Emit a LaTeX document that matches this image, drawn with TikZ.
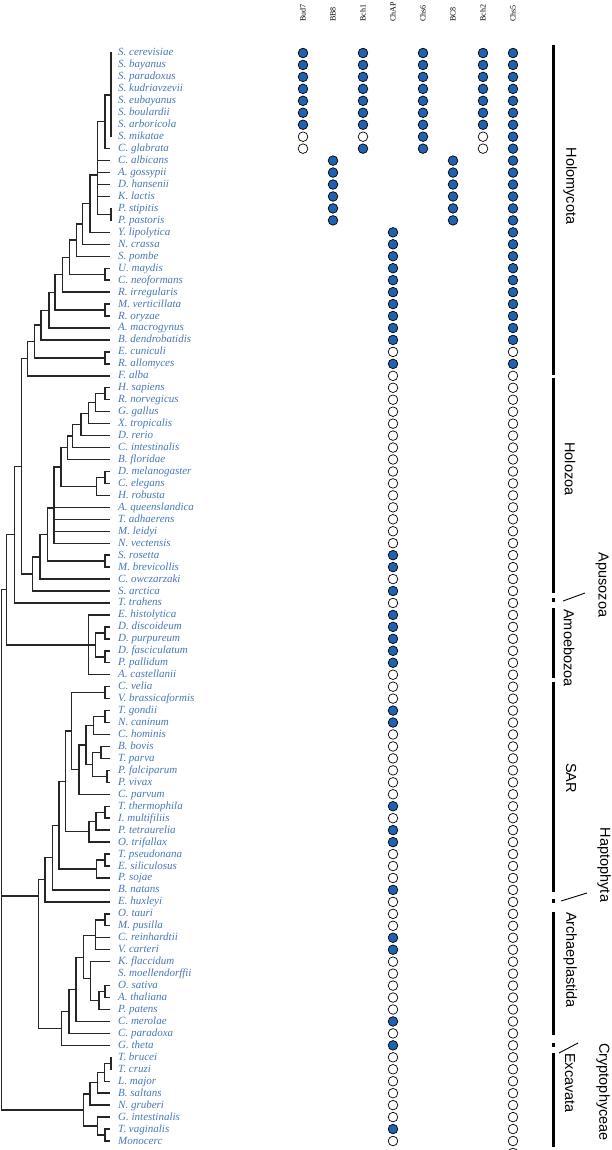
\documentclass[tikz,border=0pt]{standalone}
\usepackage{fontspec}
\setmainfont{Liberation Serif}
\setsansfont{Liberation Sans}
\definecolor{taxblue}{HTML}{4677B6}
\definecolor{dotblue}{HTML}{1E62B0}
\tikzset{
  taxon/.style={anchor=west,inner xsep=8pt,inner ysep=0pt,text height=7.5pt,text depth=1.5pt,text=taxblue,font=\fontsize{11}{12}\selectfont\itshape},
  branch/.style={line width=1.4pt,draw=black!85},
  gene/.style={rotate=90,anchor=west,inner sep=0pt,font=\fontsize{8}{9}\selectfont},
  cell/.style={circle,draw,line width=0.7pt,minimum size=9.6pt,inner sep=0pt},
  st1/.style={fill=dotblue},
  st0/.style={fill=white},
  cladebar/.style={line width=3pt},
  cladename/.style={rotate=-90,inner sep=0pt,font=\sffamily\fontsize{14.5}{15}\selectfont},
}
\begin{document}
\begin{tikzpicture}[x=1pt,y=-1pt]
\useasboundingbox (0,0) rectangle (612,1150);

\foreach \g [count=\c] in {Bud7,BB8,Bch1,ChAP,Chs6,BC8,Bch2,Chs5}
  \node[gene] (g\c) at ({273+30*\c},22) {\g};

\foreach \t [count=\i] in {S. cerevisiae,S. bayanus,S. paradoxus,S. kudriavzevii,S. eubayanus,S. boulardii,S. arboricola,S. mikatae,C. glabrata,C. albicans,A. gossypii,D. hansenii,K. lactis,P. stipitis,P. pastoris,Y. lipolytica,N. crassa,S. pombe,U. maydis,C. neoformans,R. irregularis,M. verticillata,R. oryzae,A. macrogynus,B. dendrobatidis,E. cuniculi,R. allomyces,F. alba,H. sapiens,R. norvegicus,G. gallus,X. tropicalis,D. rerio,C. intestinalis,B. floridae,D. melanogaster,C. elegans,H. robusta,A. queenslandica,T. adhaerens,M. leidyi,N. vectensis,S. rosetta,M. brevicollis,C. owczarzaki,S. arctica,T. trahens,E. histolytica,D. discoideum,D. purpureum,D. fasciculatum,P. pallidum,A. castellanii,C. velia,V. brassicaformis,T. gondii,N. caninum,C. hominis,B. bovis,T. parva,P. falciparum,P. vivax,C. parvum,T. thermophila,I. multifiliis,P. tetraurelia,O. trifallax,T. pseudonana,E. siliculosus,P. sojae,B. natans,E. huxleyi,O. tauri,M. pusilla,C. reinhardtii,V. carteri,K. flaccidum,S. moellendorffii,O. sativa,A. thaliana,P. patens,C. merolae,C. paradoxa,G. theta,T. brucei,T. cruzi,L. major,B. saltans,N. gruberi,G. intestinalis,T. vaginalis,Monocerc}
  \node[taxon] (t\i) at (110,{53+11.956*(\i-1)}) {\t};

\foreach \c/\r/\vals in {
  1/1/{1,1,1,1,1,1,1,0,0},
  2/10/{1,1,1,1,1,1},
  3/1/{1,1,1,1,1,1,1,0,1},
  4/16/{1,1,1,1,1,1,1,1,1,1,0,1,0,0,0,0,0,0,0,0,0,0,0,0,0,0,0,1,1,0,1,0,1,1,1,1,1,0,0,0,1,1,0,0,0,0,0,0,1,0,1,1,0,0,0,1,0,0,0,1,1,0,0,0,0,0,1,0,1,0,0,0,0,0,0,1,0},
  5/1/{1,1,1,1,1,1,1,1,1},
  6/10/{1,1,1,1,1,1},
  7/1/{1,1,1,1,1,1,1,0,0},
  8/1/{1,1,1,1,1,1,1,1,1,1,1,1,1,1,1,1,1,1,1,1,1,1,1,1,1,0,1,0,0,0,0,0,0,0,0,0,0,0,0,0,0,0,0,0,0,0,0,0,0,0,0,0,0,0,0,0,0,0,0,0,0,0,0,0,0,0,0,0,0,0,0,0,0,0,0,0,0,0,0,0,0,0,0,0,0,0,0,0,0,0,0,0,0}}
  \foreach \v [count=\k from \r] in \vals
    \node[cell,st\v] (d\c-\k) at ({273+30*\c},{53+11.956*(\k-1)}) {};

\foreach \n/\x/\y in {sac/111/94.85,ncgl/105/121.75,nsac/97.7/175.05,npp/111/214.4,nylip/90/203.7,nncr/82.7/224.0,nasc/76.7/240.1,num/105/274.2,ndik/69.3/257.2,nrir/62.3/274.7,nmr/105/310.1,nh/55/292.4,ni/49/310.2,nj/41/325.1,ner/105/357.9,nk/34.3/341.5,nhm/27.7/358.7,
  nhr/105/393.7,ngg/95.7/402.7,nxt/88.3/413.2,ndr/81/424.4,nci/72.7/436.0,nbf/67.7/447.7,ndc/105/477.4,nhro/96.7/486.4,nbil/61/467.1,nmet/54/508,nsm/105/561.1,ncho/47.7/534.6,ncow/40/556.8,nsarc/32.3/573.9,nopi/21.7/466.3,nob/14.3/534.6,
  ndd/105/632.9,ndp/105/656.8,ndic/95.7/644.8,namb/88.3/644.8,nam/6.7/589.7,
  ncv/105/692.6,ntn/105/716.6,nch/93.3/725.5,nbt/101/752.4,npf/107/776.3,npir/92.3/764.4,nhae/86/745.0,ncp/79/769.6,nmyz/71.7/731.1,nti/105/812.2,npt/96/821.2,ncil/89/831.6,nalv/65.7/781.4,nte/105/860.0,nstr/96.7/869.0,nsa/59/825.2,nsar/52.3/857.6,nhap/45/879.7,
  nom/105/919.8,nchl/95.7/935.7,noa/105/991.5,nemb/99/1000.5,nlp/90.7/978.6,nvir/83.3/957.2,ncm/76/989.3,ncpa/69/1011.3,narc/61.7/1028.3,ndia/38.3/896,
  ntb/111/1063.3,nlm/104.3/1072.2,nbs/97.3/1082.7,nng/90/1093.9,ntv/105/1135.0,nmm/97.7/1126.0,nexc/83.3/1110.0,root/1.2/850}
  \coordinate (\n) at (\x,\y);

\foreach \p/\c in {sac/t1,sac/t2,sac/t3,sac/t4,sac/t5,sac/t6,sac/t7,sac/t8,ncgl/sac,ncgl/t9,
  nsac/ncgl,nsac/t10,nsac/t11,nsac/t12,nsac/t13,nsac/npp,npp/t14,npp/t15,nylip/nsac,nylip/t16,
  nncr/nylip,nncr/t17,nasc/nncr,nasc/t18,num/t19,num/t20,ndik/nasc,ndik/num,nrir/ndik,nrir/t21,
  nmr/t22,nmr/t23,nh/nrir,nh/nmr,ni/nh,ni/t24,nj/ni,nj/t25,ner/t26,ner/t27,nk/nj,nk/ner,nhm/nk,nhm/t28,
  nhr/t29,nhr/t30,ngg/nhr,ngg/t31,nxt/ngg,nxt/t32,ndr/nxt,ndr/t33,nci/ndr,nci/t34,nbf/nci,nbf/t35,
  ndc/t36,ndc/t37,nhro/ndc,nhro/t38,nbil/nbf,nbil/nhro,nmet/nbil,nmet/t39,nmet/t40,nmet/t41,nmet/t42,
  nsm/t43,nsm/t44,ncho/nmet,ncho/nsm,ncow/ncho,ncow/t45,nsarc/ncow,nsarc/t46,nopi/nhm,nopi/nsarc,nob/nopi,nob/t47,
  ndd/t49,ndd/t50,ndp/t51,ndp/t52,ndic/ndd,ndic/ndp,namb/t48,namb/ndic,namb/t53,nam/nob,nam/namb,
  ncv/t54,ncv/t55,ntn/t56,ntn/t57,nch/ntn,nch/t58,nbt/t59,nbt/t60,npf/t61,npf/t62,npir/nbt,npir/npf,
  nhae/nch,nhae/npir,ncp/nhae,ncp/t63,nmyz/ncv,nmyz/ncp,nti/t64,nti/t65,npt/nti,npt/t66,ncil/npt,ncil/t67,
  nalv/nmyz,nalv/ncil,nte/t68,nte/t69,nstr/nte,nstr/t70,nsa/nalv,nsa/nstr,nsar/nsa,nsar/t71,nhap/nsar,nhap/t72,
  nom/t73,nom/t74,nchl/nom,nchl/t75,nchl/t76,noa/t79,noa/t80,nemb/noa,nemb/t81,nlp/t77,nlp/nemb,
  nvir/nchl,nvir/nlp,ncm/nvir,ncm/t82,ncpa/ncm,ncpa/t83,narc/ncpa,narc/t84,ndia/nhap,ndia/narc,
  ntb/t85,ntb/t86,nlm/ntb,nlm/t87,nbs/nlm,nbs/t88,nng/nbs,nng/t89,ntv/t91,ntv/t92,nmm/t90,nmm/ntv,
  nexc/nng,nexc/nmm,root/nam,root/ndia,root/nexc}
  \draw[branch] (\p) |- (\c);

\draw[cladebar] (553,45) -- (553,375);
\draw[cladebar] (553,378) -- (553,593);
\draw[cladebar] (553,598) -- (553,602);
\draw[cladebar] (553,608) -- (553,678);
\draw[cladebar] (553,682) -- (553,892);
\draw[cladebar] (553,899) -- (553,903);
\draw[cladebar] (553,912) -- (553,1035);
\draw[cladebar] (553,1043) -- (553,1047);
\draw[cladebar] (553,1053) -- (553,1147);
\draw[line width=0.9pt] (563,601) -- (585,593);
\draw[line width=0.9pt] (561,901) -- (587,893);
\draw[line width=0.9pt] (559,1053) -- (578,1043);

\node[cladename] (holomycota) at (570,186) {Holomycota};
\node[cladename] (holozoa) at (570,469) {Holozoa};
\node[cladename] (apusozoa) at (602,585) {Apusozoa};
\node[cladename] (amoebozoa) at (569,648) {Amoebozoa};
\node[cladename] (sar) at (571,778) {SAR};
\node[cladename] (haptophyta) at (604,865) {Haptophyta};
\node[cladename] (archaeplastida) at (570,960) {Archaeplastida};
\node[cladename] (cryptophyceae) at (603,1092) {Cryptophyceae};
\node[cladename] (excavata) at (570,1083) {Excavata};
\end{tikzpicture}
\end{document}
